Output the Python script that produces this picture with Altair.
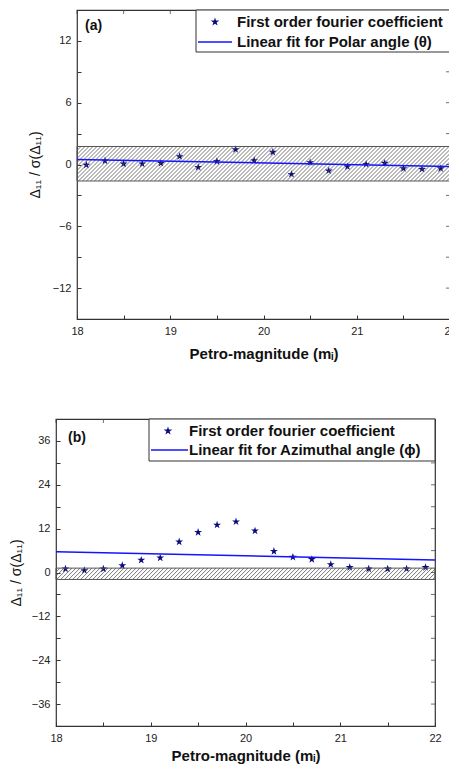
import altair as alt
import numpy as np
import pandas as pd

# ---------------- data ----------------
mag = [18.1, 18.3, 18.5, 18.7, 18.9, 19.1, 19.3, 19.5, 19.7, 19.9,
       20.1, 20.3, 20.5, 20.7, 20.9, 21.1, 21.3, 21.5, 21.7, 21.9]
coef_polar = [-0.05, 0.36, 0.07, 0.07, 0.13, 0.78, -0.26, 0.3, 1.46, 0.39,
              1.2, -0.94, 0.2, -0.6, -0.2, 0.03, 0.13, -0.39, -0.46, -0.39]
coef_azim = [1.0, 0.55, 1.0, 1.9, 3.4, 4.0, 8.4, 11.0, 13.0, 13.9,
             11.4, 5.8, 4.2, 3.6, 2.2, 1.4, 1.0, 1.0, 1.0, 1.4]
fit_x = [18, 22]
fit_polar = [0.49, -0.2]
fit_azim = [5.7, 3.45]
band_polar = [-1.6, 1.75]
band_azim = [-1.9, 1.2]
x_ticks = [18, 18.5, 19, 19.5, 20, 20.5, 21, 21.5, 22]
y_ticks_a = [-12, -9, -6, -3, 0, 3, 6, 9, 12]
y_ticks_b = [-36, -30, -24, -18, -12, -6, 0, 6, 12, 18, 24, 30, 36]

PTS_LABEL = "First order fourier coefficient"
FIT_A = "Linear fit for Polar angle (\u03b8)"
FIT_B = "Linear fit for Azimuthal angle (\u03d5)"

NAVY = "#0b0b80"
BLUE = "#1414ff"
FONT = "Liberation Sans"
STAR = ("M0,-1L0.2245,-0.309L0.951,-0.309L0.3633,0.118L0.588,0.809L0,0.382"
        "L-0.588,0.809L-0.3633,0.118L-0.951,-0.309L-0.2245,-0.309Z")


def hatch(lo, hi, px_x, px_y, step_px=4.0):
    run = (hi - lo) * px_y / px_x
    starts = np.arange(18 - run, 22 + 1e-9, step_px / px_x)
    return pd.DataFrame({"a": starts, "b": starts + run, "lo": lo, "hi": hi})


def one(**kw):
    return pd.DataFrame({k: [v] for k, v in kw.items()})


def legend_layers(w, fit_label, box_left, sym_x, line_x0, line_x1, text_x, row1, row2):
    box = alt.Chart(one(k=0)).mark_rect(fill="white", stroke="#333", strokeWidth=1).encode(
        x=alt.value(box_left), x2=alt.value(w), y=alt.value(0), y2=alt.value(42))
    star = alt.Chart(one(k=0)).mark_point(shape=STAR, filled=True, size=80, opacity=1,
                                          color=NAVY).encode(
        x=alt.value(sym_x), y=alt.value(row1))
    line = alt.Chart(one(k=0)).mark_rule(color=BLUE, strokeWidth=1.5).encode(
        x=alt.value(line_x0), x2=alt.value(line_x1), y=alt.value(row2))
    t1 = alt.Chart(one(t=PTS_LABEL)).mark_text(
        align="left", baseline="middle", font=FONT, fontSize=15, fontWeight="bold",
        color="#111").encode(text="t:N", x=alt.value(text_x), y=alt.value(row1))
    t2 = alt.Chart(one(t=fit_label)).mark_text(
        align="left", baseline="middle", font=FONT, fontSize=15, fontWeight="bold",
        color="#111").encode(text="t:N", x=alt.value(text_x), y=alt.value(row2))
    return [box, star, line, t1, t2]


def panel(coef, fit_y, band, dom, yvals, ymod, fit_label, tag, tag_xy, w, h, title_pad,
          xtitle_pad, leg):
    xs = alt.Scale(domain=[18, 22], nice=False, zero=False)
    ys = alt.Scale(domain=dom, nice=False, zero=False)

    pts = pd.DataFrame({"m": mag, "v": coef})
    fit = pd.DataFrame({"m": fit_x, "v": fit_y})
    rect = pd.DataFrame({"x0": [18], "x1": [22], "lo": [band[0]], "hi": [band[1]]})
    hat = hatch(band[0], band[1], w / 4.0, h / (dom[1] - dom[0]))
    xt = pd.DataFrame({"t": x_ticks})
    yt = pd.DataFrame({"t": yvals})

    x_axis = alt.Axis(values=x_ticks,
                      labelExpr="datum.value % 1 === 0 ? format(datum.value, 'd') : ''",
                      offset=-4, tickSize=4, domain=False, grid=False, labelFlush=False,
                      labelPadding=6, labelFont=FONT, labelFontSize=11, labelColor="#222",
                      tickColor="#333", title="Petro-magnitude (m\u1d62)",
                      titleFont=FONT, titleFontSize=15, titleFontWeight="bold",
                      titleColor="#111", titlePadding=xtitle_pad)
    y_axis = alt.Axis(values=yvals,
                      labelExpr=f"datum.value % {ymod} === 0 ? format(datum.value, 'd') : ''",
                      offset=-4, tickSize=4, domain=False, grid=False,
                      labelPadding=6, labelFont=FONT, labelFontSize=11, labelColor="#222",
                      tickColor="#333", title="\u0394\u2081\u2081 / \u03c3(\u0394\u2081\u2081)",
                      titleFont=FONT, titleFontSize=14, titleFontWeight="normal",
                      titleColor="#111", titlePadding=title_pad)
    X = lambda f: alt.X(f, scale=xs, axis=x_axis)
    Y = lambda f: alt.Y(f, scale=ys, axis=y_axis)

    hatch_layer = alt.Chart(hat).mark_rule(color="#555", strokeWidth=0.8, clip=True).encode(
        x=X("a:Q"), x2="b:Q", y=Y("lo:Q"), y2="hi:Q")
    band_layer = alt.Chart(rect).mark_rect(fill="transparent", stroke="#555", strokeWidth=1).encode(
        x=X("x0:Q"), x2="x1:Q", y=Y("lo:Q"), y2="hi:Q")
    fit_layer = alt.Chart(fit).mark_line(strokeWidth=1.5, color=BLUE).encode(
        x=X("m:Q"), y=Y("v:Q"))
    pt_layer = alt.Chart(pts).mark_point(shape=STAR, filled=True, size=70, opacity=1,
                                         color=NAVY).encode(x=X("m:Q"), y=Y("v:Q"))
    top_ticks = alt.Chart(xt).mark_tick(color="#333", size=4, thickness=1, orient="vertical").encode(
        x=X("t:Q"), y=alt.value(2))
    right_ticks = alt.Chart(yt).mark_tick(color="#333", size=4, thickness=1, orient="horizontal").encode(
        y=Y("t:Q"), x=alt.value(w - 2))
    tag_layer = alt.Chart(one(t=tag)).mark_text(
        align="left", baseline="middle", font=FONT, fontSize=14, fontWeight="bold",
        color="#111").encode(text="t:N", x=alt.value(tag_xy[0]), y=alt.value(tag_xy[1]))

    layers = ([pt_layer, band_layer, hatch_layer, fit_layer, top_ticks, right_ticks, tag_layer]
              + legend_layers(w, fit_label, *leg))
    return alt.layer(*layers).properties(width=w, height=h)


top = panel(coef_polar, fit_polar, band_polar, [-15, 15], y_ticks_a, 6, FIT_A, "(a)", (8, 16),
            373, 309, 10, 10, (119, 138, 121, 155, 160, 12, 32))
bottom = panel(coef_azim, fit_azim, band_azim, [-42, 42], y_ticks_b, 12, FIT_B, "(b)", (12, 19),
               379, 307, 8, 5, (93, 112, 95, 132, 133, 12, 31))

spacer = alt.Chart(one(a=0)).mark_point(opacity=0, size=1).encode(
    x=alt.value(0), y=alt.value(0)
).properties(width=1, height=1, view=alt.ViewBackground(stroke="transparent"))

row1 = alt.hconcat(spacer, top, spacing=20, bounds="flush").resolve_scale(
    x="independent", y="independent")

chart = alt.vconcat(row1, bottom, spacing=55).resolve_scale(
    x="independent", y="independent"
).properties(
    padding={"left": 0, "top": 0, "right": -8, "bottom": 0}
).configure(font=FONT).configure_view(stroke="#333", strokeWidth=1.2)

chart.save("out.html", embed_options={"renderer": "svg", "actions": False})
